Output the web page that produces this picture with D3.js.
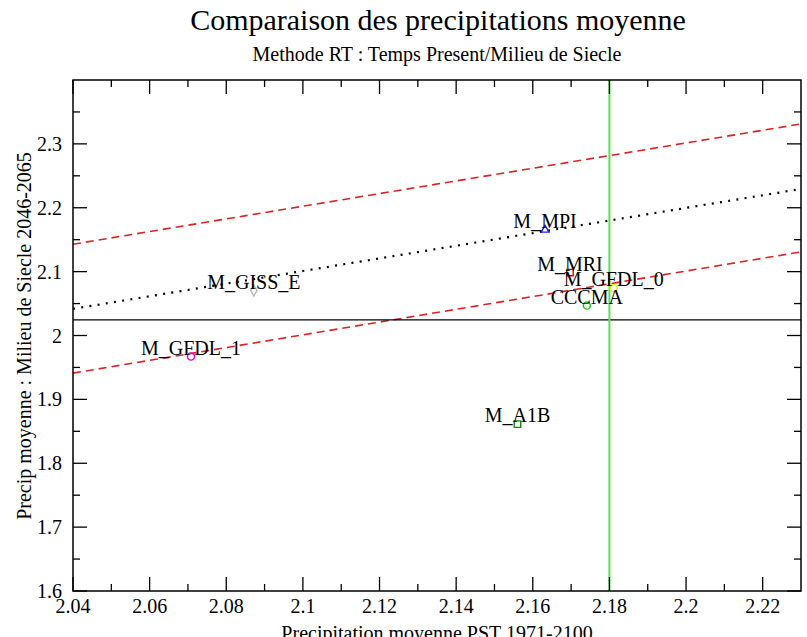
<!DOCTYPE html>
<html>
<head>
<meta charset="utf-8">
<script src="https://cdn.jsdelivr.net/npm/d3@7"></script>
<style>
  html, body { margin: 0; padding: 0; background: #fff; }
  svg { display: block; font-family: "Liberation Serif", "Times New Roman", serif; }
</style>
</head>
<body>
<svg id="chart" width="807" height="637"></svg>
<script>
// Model names and their mean precipitation (present 1971-2100 vs mid-century 2046-2065)
const models = ["M_MPI", "M_MRI", "M_GFDL_0", "CCCMA", "M_GISS_E", "M_GFDL_1", "M_A1B"];
const precipPST = [2.1632, 2.1697, 2.1811, 2.1741, 2.0872, 2.0708, 2.1560];
const precipMid = [2.1653, 2.0985, 2.0741, 2.0468, 2.0703, 1.9670, 1.8613];
const markerShapes = ["triangle", "square", "circle", "circle", "diamond", "circle", "square"];
const markerColors = ["#2222ee", "#dd0000", "#eeee00", "#11cc11", "#b8b8b8", "#ee00ee", "#118811"];

// Reference lines
const refX = 2.18;      // vertical reference (green)
const refY = 2.0245;    // horizontal reference (black)
const lineXs = [2.04, 2.23];
const fitLine = [2.0417, 2.2294];   // dotted trend
const upperBand = [2.1429, 2.3312]; // dashed upper bound
const lowerBand = [1.9411, 2.1309]; // dashed lower bound

// Axis ticks
const xMajor = [2.04, 2.06, 2.08, 2.1, 2.12, 2.14, 2.16, 2.18, 2.2, 2.22];
const xMinor = [2.05, 2.07, 2.09, 2.11, 2.13, 2.15, 2.17, 2.19, 2.21];
const yMajor = [1.6, 1.7, 1.8, 1.9, 2.0, 2.1, 2.2, 2.3];
const yMinor = [1.65, 1.75, 1.85, 1.95, 2.05, 2.15, 2.25, 2.35];

const titleText = "Comparaison des precipitations moyenne";
const subtitleText = "Methode RT : Temps Present/Milieu de Siecle";
const xLabelText = "Precipitation moyenne PST 1971-2100";
const yLabelText = "Precip moyenne : Milieu de Siecle 2046-2065";

const svg = d3.select("#chart");
const L = 73, T = 80, R = 801, B = 591;

const x = d3.scaleLinear().domain([2.04, 2.23]).range([L, R]);
const y = d3.scaleLinear().domain([1.6, 2.4]).range([B, T]);
const fmt = d => String(+d.toFixed(2));

const plot = svg.append("g");

// clip for lines
svg.append("defs").append("clipPath").attr("id", "clip")
  .append("rect").attr("x", L).attr("y", T).attr("width", R - L).attr("height", B - T);

const lines = plot.append("g").attr("clip-path", "url(#clip)");
const lineGen = d3.line().x(d => x(d[0])).y(d => y(d[1]));

lines.append("path")
  .attr("d", lineGen(d3.zip(lineXs, upperBand)))
  .attr("fill", "none").attr("stroke", "#dd2222").attr("stroke-width", 1.6)
  .attr("stroke-dasharray", "8,5");
lines.append("path")
  .attr("d", lineGen(d3.zip(lineXs, lowerBand)))
  .attr("fill", "none").attr("stroke", "#dd2222").attr("stroke-width", 1.6)
  .attr("stroke-dasharray", "8,5");
lines.append("path")
  .attr("d", lineGen(d3.zip(lineXs, fitLine)))
  .attr("fill", "none").attr("stroke", "#000").attr("stroke-width", 2.2)
  .attr("stroke-dasharray", "2,6.3");
lines.append("line")
  .attr("x1", L).attr("x2", R).attr("y1", y(refY)).attr("y2", y(refY))
  .attr("stroke", "#000").attr("stroke-width", 1.4);
lines.append("line")
  .attr("x1", x(refX)).attr("x2", x(refX)).attr("y1", T).attr("y2", B)
  .attr("stroke", "#55e055").attr("stroke-width", 2);

// markers
const symbolTypes = {
  triangle: d3.symbolTriangle, square: d3.symbolSquare,
  circle: d3.symbolCircle, diamond: d3.symbolDiamond
};
const symbolSizes = { triangle: 26, square: 42, circle: 40, diamond: 34 };
const pts = models.map((m, i) => ({
  name: m, px: precipPST[i], py: precipMid[i],
  shape: markerShapes[i], color: markerColors[i]
}));

plot.append("g").selectAll("path").data(pts).join("path")
  .attr("transform", d => `translate(${x(d.px)},${y(d.py)})`)
  .attr("d", d => d3.symbol().type(symbolTypes[d.shape]).size(symbolSizes[d.shape])())
  .attr("fill", "none").attr("stroke", d => d.color).attr("stroke-width", 1.4);

plot.append("g").selectAll("text").data(pts).join("text")
  .attr("x", d => x(d.px)).attr("y", d => y(d.py) - 2)
  .attr("text-anchor", "middle").attr("font-size", 20).attr("fill", "#000")
  .text(d => d.name);

// frame
plot.append("rect").attr("x", L).attr("y", T).attr("width", R - L).attr("height", B - T)
  .attr("fill", "none").attr("stroke", "#000").attr("stroke-width", 1.5);

// ticks (inward on all four sides)
const tg = plot.append("g").attr("stroke", "#000").attr("stroke-width", 1.3);
const MAJ = 14, MIN = 7;
xMajor.forEach(v => {
  tg.append("line").attr("x1", x(v)).attr("x2", x(v)).attr("y1", B).attr("y2", B - MAJ);
  tg.append("line").attr("x1", x(v)).attr("x2", x(v)).attr("y1", T).attr("y2", T + MAJ);
});
xMinor.forEach(v => {
  tg.append("line").attr("x1", x(v)).attr("x2", x(v)).attr("y1", B).attr("y2", B - MIN);
  tg.append("line").attr("x1", x(v)).attr("x2", x(v)).attr("y1", T).attr("y2", T + MIN);
});
yMajor.forEach(v => {
  tg.append("line").attr("x1", L).attr("x2", L + MAJ).attr("y1", y(v)).attr("y2", y(v));
  tg.append("line").attr("x1", R).attr("x2", R - MAJ).attr("y1", y(v)).attr("y2", y(v));
});
yMinor.forEach(v => {
  tg.append("line").attr("x1", L).attr("x2", L + MIN).attr("y1", y(v)).attr("y2", y(v));
  tg.append("line").attr("x1", R).attr("x2", R - MIN).attr("y1", y(v)).attr("y2", y(v));
});

// tick labels
plot.append("g").selectAll("text").data(xMajor).join("text")
  .attr("x", d => x(d)).attr("y", B + 22)
  .attr("text-anchor", "middle").attr("font-size", 20).text(fmt);
plot.append("g").selectAll("text").data(yMajor).join("text")
  .attr("x", L - 11).attr("y", d => y(d) + 7)
  .attr("text-anchor", "end").attr("font-size", 20).text(fmt);

// titles
svg.append("text").attr("x", 438).attr("y", 30).attr("text-anchor", "middle")
  .attr("font-size", 30).text(titleText);
svg.append("text").attr("x", 437).attr("y", 61).attr("text-anchor", "middle")
  .attr("font-size", 20).text(subtitleText);
svg.append("text").attr("x", 437).attr("y", 640).attr("text-anchor", "middle")
  .attr("font-size", 20).text(xLabelText);
svg.append("text").attr("transform", "translate(31,336) rotate(-90)")
  .attr("text-anchor", "middle").attr("font-size", 20).text(yLabelText);
</script>
</body>
</html>
